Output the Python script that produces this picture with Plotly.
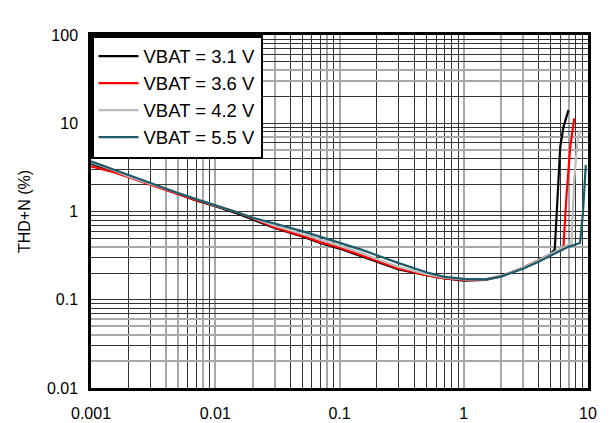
import math
import plotly.graph_objects as go

# ---- data ----
x_common = [0.001, 0.0015, 0.002, 0.003, 0.005, 0.007, 0.01, 0.015, 0.02, 0.025, 0.03,
            0.05, 0.07, 0.1, 0.15, 0.2, 0.3, 0.5, 0.7, 1.0, 1.5, 2.0, 3.0, 4.0, 5.0]

x_31 = x_common + [5.4, 5.64, 5.98, 6.35, 6.96]
y_31 = [3.5, 2.9, 2.5, 2.05, 1.58, 1.33, 1.15, 0.95, 0.81, 0.72, 0.65,
        0.52, 0.44, 0.38, 0.31, 0.27, 0.22, 0.19, 0.175, 0.165, 0.168, 0.185, 0.23, 0.28, 0.33,
        0.37, 1.13, 5.4, 9.1, 14.1]

x_36 = x_common + [6.0, 6.35, 6.7, 7.2, 7.75]
y_36 = [3.25, 2.8, 2.45, 2.02, 1.57, 1.34, 1.16, 0.98, 0.84, 0.73, 0.66,
        0.53, 0.45, 0.39, 0.32, 0.275, 0.225, 0.19, 0.175, 0.168, 0.17, 0.185, 0.23, 0.28, 0.33,
        0.37, 0.40, 1.47, 5.4, 11.4]

x_42 = x_common + [6.0, 7.0, 7.36, 7.75, 8.2, 8.63]
y_42 = [3.6, 2.95, 2.5, 2.06, 1.6, 1.36, 1.17, 0.98, 0.84, 0.76, 0.69,
        0.56, 0.48, 0.41, 0.34, 0.29, 0.235, 0.195, 0.178, 0.17, 0.17, 0.185, 0.23, 0.28, 0.33,
        0.38, 0.42, 0.44, 2.27, 6.0, 8.4]

x_55 = x_common + [6.0, 7.0, 8.0, 8.63, 9.1, 9.6]
y_55 = [3.7, 3.0, 2.55, 2.08, 1.62, 1.38, 1.18, 0.98, 0.85, 0.79, 0.73,
        0.60, 0.52, 0.44, 0.37, 0.32, 0.26, 0.205, 0.182, 0.172, 0.17, 0.183, 0.225, 0.27, 0.32,
        0.36, 0.40, 0.42, 0.44, 0.95, 3.37]

series_names = ["VBAT = 3.1 V", "VBAT = 3.6 V", "VBAT = 4.2 V", "VBAT = 5.5 V"]
series_colors = ["#000000", "#ff0000", "#bdbdbd", "#1d5b69"]

x_decades = [0.001, 0.01, 0.1, 1, 10]
y_decades = [0.01, 0.1, 1, 10, 100]

# grid line sets (light grey lines vs dark lines, as in the reference)
x_all = [m * 10 ** e for e in range(-3, 1) for m in range(1, 10)] + [10]
x_grey = [0.004, 0.005, 0.008, 0.01, 0.02, 0.03, 0.08, 0.1, 1, 2, 3, 7]
y_all = [m * 10 ** e for e in range(-2, 2) for m in range(1, 10)] + [100]
y_grey = [0.02, 0.04, 0.05, 0.06, 0.4, 5, 7, 30, 40]


def close(a, b):
    return abs(a - b) <= 1e-9 * max(abs(a), abs(b))


def label(v):
    lg = math.log10(v)
    return ("%g" % v) if abs(lg - round(lg)) < 1e-9 else ""


x_black = [v for v in x_all if not any(close(v, g) for g in x_grey)]
y_black = [v for v in y_all if not any(close(v, g) for g in y_grey)]

# x: major ticks = decades + grey lines (grey grid); minor = dark lines
x_major = sorted(set(x_decades + x_grey), key=float)
x_major_text = [label(v) for v in x_major]
x_minor = [v for v in x_black if not any(close(v, d) for d in x_major)]
# y: major ticks = all dark lines (labels only on decades); minor = grey lines
y_major = y_black
y_major_text = [label(v) for v in y_major]

fig = go.Figure()
for xs, ys, name, col in zip([x_31, x_36, x_42, x_55], [y_31, y_36, y_42, y_55],
                             series_names, series_colors):
    fig.add_trace(go.Scatter(x=xs, y=ys, mode="lines", name=name,
                             line=dict(color=col, width=2.2)))

FONT = "Liberation Sans, Arial, sans-serif"
axis_common = dict(
    type="log", showline=True, linecolor="black", linewidth=2.5, mirror=True,
    showgrid=True, ticks="", zeroline=False, layer="below traces", automargin=False,
    tickfont=dict(family=FONT, size=16, color="black"),
)

fig.update_layout(
    width=601, height=415,
    margin=dict(l=83, r=21, t=27, b=35, autoexpand=False),
    paper_bgcolor="white", plot_bgcolor="white",
    font=dict(family=FONT, size=16, color="black"),
    showlegend=True,
    legend=dict(x=0, y=1, xanchor="left", yanchor="top", bgcolor="white",
                bordercolor="black", borderwidth=2.5,
                font=dict(family=FONT, size=18.5, color="black"),
                tracegroupgap=0, itemwidth=40),
)
fig.update_xaxes(**axis_common, range=[-3, 1], tickvals=x_major, ticktext=x_major_text,
                 gridcolor="#a8a8a8", gridwidth=2, ticklabelstandoff=9,
                 minor=dict(tickvals=x_minor, showgrid=True, gridcolor="#333333", gridwidth=1))
fig.update_yaxes(**axis_common, range=[-2, 2], tickvals=y_major, ticktext=y_major_text,
                 gridcolor="#333333", gridwidth=1, ticklabelstandoff=7,
                 minor=dict(tickvals=y_grey, showgrid=True, gridcolor="#a8a8a8", gridwidth=2),
                 title=dict(text="THD+N (%)", standoff=13,
                            font=dict(family=FONT, size=16, color="black")))

fig.write_html("out.html")
